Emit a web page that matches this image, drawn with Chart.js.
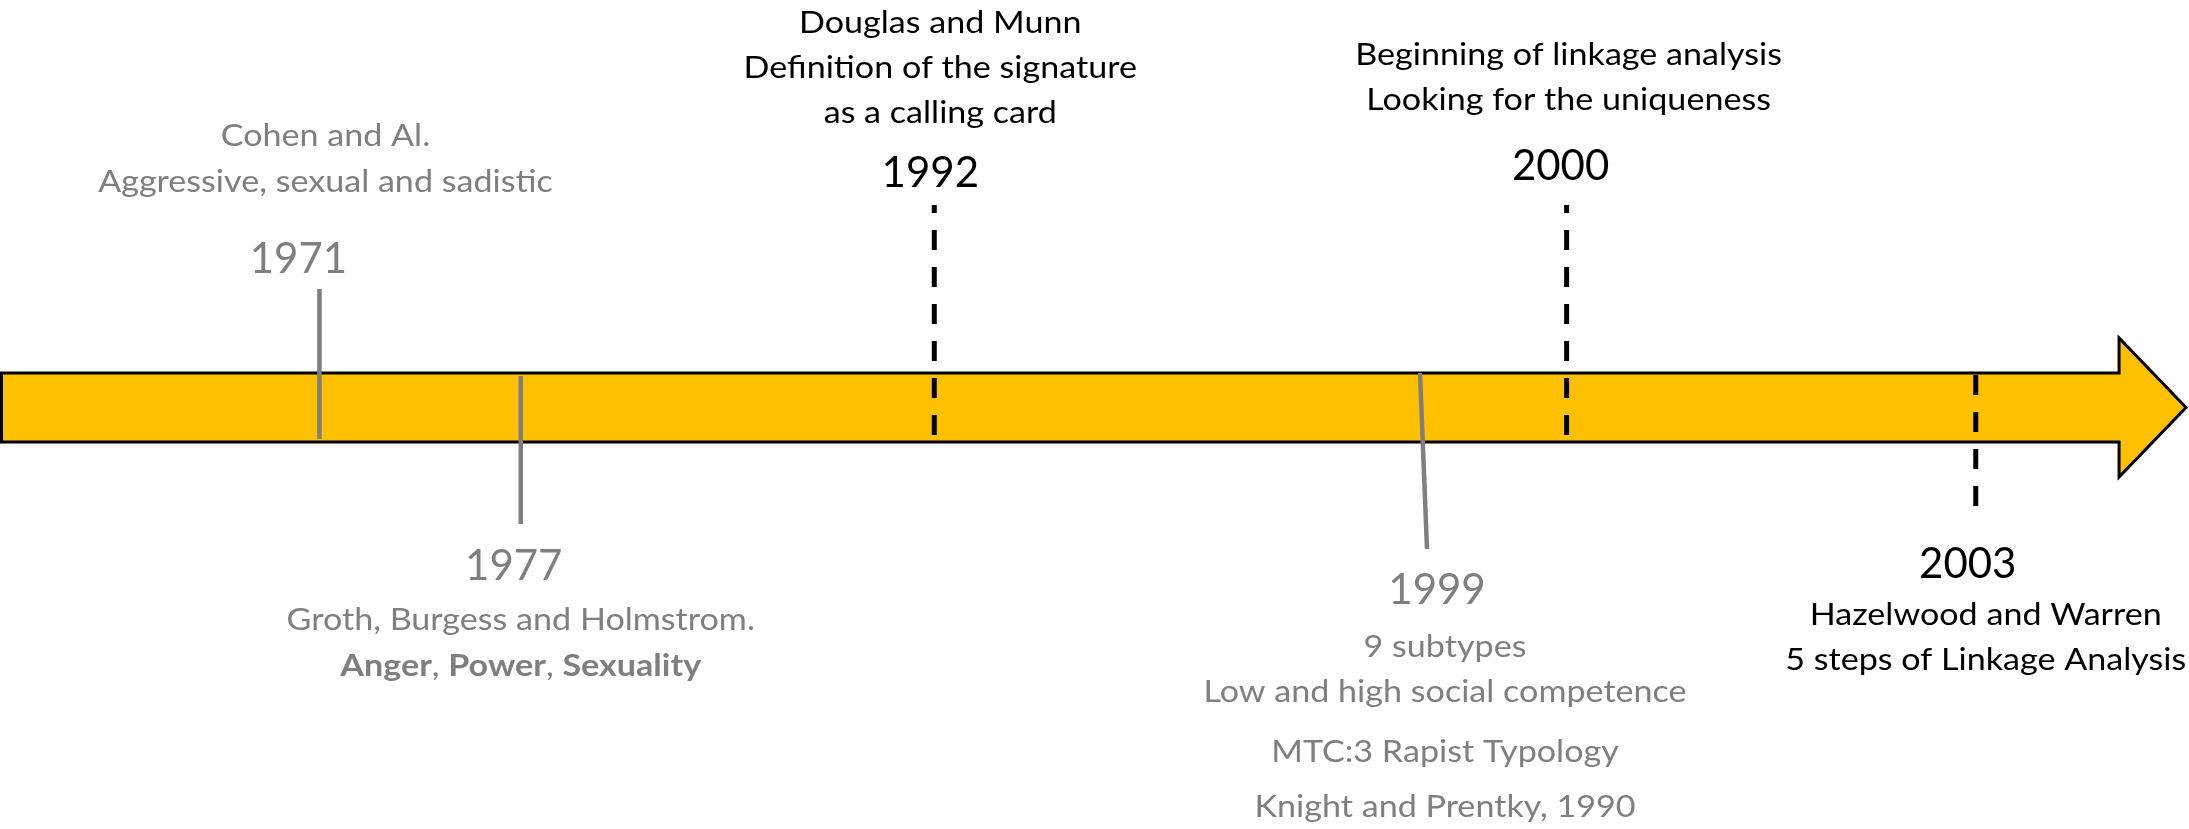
<!DOCTYPE html>
<html>
<head>
<meta charset="utf-8">
<title>Linkage analysis timeline</title>
<script src="https://cdn.jsdelivr.net/npm/chart.js@4.4.1/dist/chart.umd.min.js"></script>
<style>
  html, body { margin: 0; padding: 0; background: #fff; }
  #wrap { width: 2189px; height: 829px; position: relative; }
</style>
</head>
<body>
<div id="wrap"><canvas id="timeline"></canvas></div>
<script>
// Timeline data
const years = ['1971', '1977', '1992', '1999', '2000', '2003'];
// where each marker sits along the arrow (% of arrow length, tip = 100)
const markerPos = [14.6, 23.8, 42.7, 64.9, 71.6, 90.3];
const captions = [
  ['Cohen and Al.', 'Aggressive, sexual and sadistic'],
  ['Groth, Burgess and Holmstrom.', '**Anger**, **Power**, **Sexuality**'],
  ['Douglas and Munn', 'Definition of the signature', 'as a calling card'],
  ['9 subtypes', 'Low and high social competence', 'MTC:3 Rapist Typology', 'Knight and Prentky, 1990'],
  ['Beginning of linkage analysis', 'Looking for the uniqueness'],
  ['Hazelwood and Warren', '5 steps of Linkage Analysis']
];
// key milestones are black + dashed, the others grey + solid
const isKey = [false, false, true, false, true, true];

// ---- layout / style (pixels) ----
const GREY = '#7f7f7f';
const AMBER = '#ffc000';
const FONT = 'Lato, "Open Sans", sans-serif';
const ARROW = { top: 373, bottom: 442, headTop: 338, headBottom: 477, headStart: 96.85 };
const YEAR_SIZE = 42;
const CAPTION_SIZE = 31;
const CAPTION_STRETCH = 1.1; // source font runs wider than Lato

// tick extent, lean (% units), dash phase, year baseline + nudge, caption baselines + nudge
const layout = [
  { tick: [289, 439], lean: 0,    dashOff: 0,  yearY: 273, yearDx: -21, capY: [146, 192], capDx: 6 },
  { tick: [376, 524], lean: 0,    dashOff: 0,  yearY: 580, yearDx: -7,  capY: [630, 676], capDx: 0 },
  { tick: [205, 440], lean: 0,    dashOff: 12, yearY: 187, yearDx: -4,  capY: [33, 78, 123], capDx: 6 },
  { tick: [373, 549], lean: 0.32, dashOff: 0,  yearY: 604, yearDx: 17,  capY: [657, 702, 762, 817], capDx: 25 },
  { tick: [205, 440], lean: 0,    dashOff: 12, yearY: 180, yearDx: -6,  capY: [65, 110], capDx: 2 },
  { tick: [375, 510], lean: 0,    dashOff: 0,  yearY: 578, yearDx: -8,  capY: [625, 670], capDx: 10 }
];

const datasets = years.map(function(year, i) {
  const l = layout[i];
  return {
    label: year,
    data: [
      { x: markerPos[i], y: l.tick[0] },
      { x: markerPos[i] + l.lean, y: l.tick[1] }
    ],
    showLine: true,
    borderColor: isKey[i] ? '#000000' : GREY,
    borderWidth: isKey[i] ? 5 : 4.5,
    borderDash: isKey[i] ? [20, 17] : [],
    borderDashOffset: l.dashOff,
    borderCapStyle: 'butt',
    pointRadius: 0,
    pointHoverRadius: 0
  };
});

/**
 * Draws the amber arrow that the markers sit on
 */
const arrowPlugin = {
  id: 'arrow',
  beforeDatasetsDraw(chart) {
    const { ctx } = chart;
    const xs = chart.scales.x, ys = chart.scales.y;
    const x0 = xs.getPixelForValue(0) + 1.5;
    const xh = xs.getPixelForValue(ARROW.headStart);
    const xt = xs.getPixelForValue(100) - 2;
    const yt = ys.getPixelForValue(ARROW.top);
    const yb = ys.getPixelForValue(ARROW.bottom);
    const ym = (yt + yb) / 2;
    ctx.save();
    ctx.beginPath();
    ctx.moveTo(x0, yt);
    ctx.lineTo(xh, yt);
    ctx.lineTo(xh, ys.getPixelForValue(ARROW.headTop));
    ctx.lineTo(xt, ym);
    ctx.lineTo(xh, ys.getPixelForValue(ARROW.headBottom));
    ctx.lineTo(xh, yb);
    ctx.lineTo(x0, yb);
    ctx.closePath();
    ctx.fillStyle = AMBER;
    ctx.fill();
    ctx.lineWidth = 3;
    ctx.strokeStyle = '#000000';
    ctx.lineJoin = 'miter';
    ctx.stroke();
    ctx.restore();
  }
};

// split '**bold**, normal' into segments
function segments(line) {
  return line.split('**').map(function(t, k) { return { t: t, bold: k % 2 === 1 }; })
    .filter(function(s) { return s.t.length; });
}

function drawLine(ctx, line, cx, y, size, stretch) {
  const segs = segments(line);
  let total = 0;
  segs.forEach(function(s) {
    ctx.font = (s.bold ? 'bold ' : '') + size + 'px ' + FONT;
    s.w = ctx.measureText(s.t).width;
    total += s.w;
  });
  ctx.save();
  ctx.translate(cx, y);
  ctx.scale(stretch, 1);
  let x = -total / 2;
  segs.forEach(function(s) {
    ctx.font = (s.bold ? 'bold ' : '') + size + 'px ' + FONT;
    ctx.fillText(s.t, x, 0);
    x += s.w;
  });
  ctx.restore();
}

/**
 * Years and captions next to each marker
 */
const labelPlugin = {
  id: 'labels',
  afterDatasetsDraw(chart) {
    const { ctx } = chart;
    const xs = chart.scales.x, ys = chart.scales.y;
    ctx.save();
    ctx.textAlign = 'left';
    ctx.textBaseline = 'alphabetic';
    years.forEach(function(year, i) {
      const l = layout[i];
      const px = xs.getPixelForValue(markerPos[i]);
      ctx.fillStyle = isKey[i] ? '#000000' : GREY;
      drawLine(ctx, year, px + l.yearDx, ys.getPixelForValue(l.yearY), YEAR_SIZE, 1);
      captions[i].forEach(function(line, j) {
        drawLine(ctx, line, px + l.capDx, ys.getPixelForValue(l.capY[j]), CAPTION_SIZE, CAPTION_STRETCH);
      });
    });
    ctx.restore();
  }
};

new Chart(document.getElementById('timeline'), {
  type: 'scatter',
  data: { datasets: datasets },
  options: {
    responsive: true,
    maintainAspectRatio: false,
    animation: false,
    layout: { padding: { left: 0, right: 1, top: 0, bottom: 0 } },
    scales: {
      x: { type: 'linear', min: 0, max: 100, display: false },
      y: { type: 'linear', min: 0, max: 829, reverse: true, display: false }
    },
    plugins: {
      legend: { display: false },
      tooltip: { enabled: false }
    },
    events: []
  },
  plugins: [arrowPlugin, labelPlugin]
});
</script>
</body>
</html>
